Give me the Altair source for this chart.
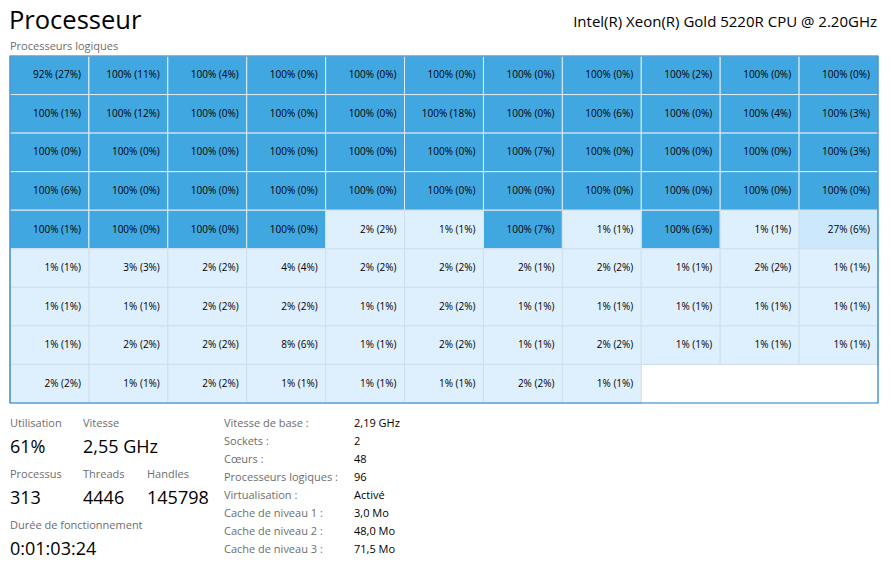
import altair as alt
import pandas as pd

# ---------------- data ----------------
title_text = "Processeur"
cpu_name = "Intel(R) Xeon(R) Gold 5220R CPU @ 2.20GHz"
grid_title = "Processeurs logiques"

n_cols = 11
util = [
    92, 100, 100, 100, 100, 100, 100, 100, 100, 100, 100,
    100, 100, 100, 100, 100, 100, 100, 100, 100, 100, 100,
    100, 100, 100, 100, 100, 100, 100, 100, 100, 100, 100,
    100, 100, 100, 100, 100, 100, 100, 100, 100, 100, 100,
    100, 100, 100, 100, 2, 1, 100, 1, 100, 1, 27,
    1, 3, 2, 4, 2, 2, 2, 2, 1, 2, 1,
    1, 1, 2, 2, 1, 2, 1, 1, 1, 1, 1,
    1, 2, 2, 8, 1, 2, 1, 2, 1, 1, 1,
    2, 1, 2, 1, 1, 1, 2, 1,
]
kernel = [
    27, 11, 4, 0, 0, 0, 0, 0, 2, 0, 0,
    1, 12, 0, 0, 0, 18, 0, 6, 0, 4, 3,
    0, 0, 0, 0, 0, 0, 7, 0, 0, 0, 3,
    6, 0, 0, 0, 0, 0, 0, 0, 0, 0, 0,
    1, 0, 0, 0, 2, 1, 7, 1, 6, 1, 6,
    1, 3, 2, 4, 2, 2, 1, 2, 1, 2, 1,
    1, 1, 2, 2, 1, 2, 1, 1, 1, 1, 1,
    1, 2, 2, 6, 1, 2, 1, 2, 1, 1, 1,
    2, 1, 2, 1, 1, 1, 2, 1,
]

stat_labels_1 = ["Utilisation", "Vitesse"]
stat_values_1 = ["61%", "2,55 GHz"]
stat_labels_2 = ["Processus", "Threads", "Handles"]
stat_values_2 = ["313", "4446", "145798"]
stat_labels_3 = ["Durée de fonctionnement"]
stat_values_3 = ["0:01:03:24"]

spec_labels = ["Vitesse de base :", "Sockets :", "Cœurs :", "Processeurs logiques :",
               "Virtualisation :", "Cache de niveau 1 :", "Cache de niveau 2 :",
               "Cache de niveau 3 :"]
spec_values = ["2,19 GHz", "2", "48", "96", "Activé", "3,0 Mo", "48,0 Mo", "71,5 Mo"]

# ---------------- layout / style ----------------
FONT = "Segoe UI, Open Sans, Noto Sans, sans-serif"
W, H = 875, 556
GX0, GX1, GY0, GY1 = 2, 870, 48, 395
BLUE = "#41A7E1"
MID = "#CCE8FC"
LIGHT = "#DEEFFD"
GRAY = "#6D6D6D"

n_rows = (len(util) + n_cols - 1) // n_cols
df = pd.DataFrame({"util": util, "kernel": kernel})
df["col"] = [i % n_cols for i in range(len(df))]
df["row"] = [i // n_cols for i in range(len(df))]
df["col_end"] = df["col"] + 1
df["row_end"] = df["row"] + 1
df["row_mid"] = df["row"] + 0.5
df["label"] = [f"{u}% ({k}%)" for u, k in zip(util, kernel)]

xs = alt.Scale(domain=[0, n_cols], range=[GX0, GX1])
ys = alt.Scale(domain=[0, n_rows], range=[GY0, GY1])

base = alt.Chart(df)
cells = base.mark_rect(strokeWidth=1).encode(
    x=alt.X("col:Q", scale=xs, axis=None),
    x2="col_end:Q",
    y=alt.Y("row:Q", scale=ys, axis=None),
    y2="row_end:Q",
    fill=alt.Fill("util:Q", scale=alt.Scale(type="threshold", domain=[10, 50],
                                            range=[LIGHT, MID, BLUE]), legend=None),
    stroke=alt.Stroke("util:Q", scale=alt.Scale(type="threshold", domain=[10, 50],
                                                range=["#CFDFEC", "#CFDFEC", "#E2ECF4"]),
                      legend=None),
)
labels = base.mark_text(align="right", baseline="middle", dx=-8, font=FONT,
                        fontSize=10, color="#000000").encode(
    x=alt.X("col_end:Q", scale=xs, axis=None),
    y=alt.Y("row_mid:Q", scale=ys, axis=None),
    text="label:N",
)
border_df = pd.DataFrame({"x0": [0], "x1": [n_cols], "y0": [0], "y1": [n_rows]})
border = alt.Chart(border_df).mark_rect(fillOpacity=0, stroke="#1F7CC6", strokeWidth=1.2).encode(
    x=alt.X("x0:Q", scale=xs, axis=None), x2="x1:Q",
    y=alt.Y("y0:Q", scale=ys, axis=None), y2="y1:Q",
)


def txt(t, x, y, size, color="#000000", align="left", weight="normal"):
    return alt.Chart(pd.DataFrame({"t": [t]})).mark_text(
        align=align, baseline="alphabetic", font=FONT, fontSize=size,
        color=color, fontWeight=weight,
    ).encode(x=alt.value(x), y=alt.value(y), text="t:N")


layers = [cells, border, labels,
          txt(title_text, 1, 21, 25.5),
          txt(cpu_name, 869, 19, 15, align="right"),
          txt(grid_title, 2, 42, 11, GRAY)]

stat_x = [2, 75, 139]
for row_i, (labs, vals) in enumerate([(stat_labels_1, stat_values_1),
                                      (stat_labels_2, stat_values_2),
                                      (stat_labels_3, stat_values_3)]):
    ly = 419 + 51 * row_i
    for j, (l, v) in enumerate(zip(labs, vals)):
        layers.append(txt(l, stat_x[j], ly, 11, GRAY))
        layers.append(txt(v, stat_x[j], ly + 26, 18))

for k, (l, v) in enumerate(zip(spec_labels, spec_values)):
    y = 419 + 18 * k
    layers.append(txt(l, 216, y, 11, GRAY))
    layers.append(txt(v, 346, y, 11))

chart = alt.layer(*layers).properties(
    width=W, height=H, padding=0, autosize=alt.AutoSizeParams(type="none"),
    background="white",
).configure_view(stroke=None)

chart.save("out.html", embed_options={"renderer": "svg", "actions": False})
